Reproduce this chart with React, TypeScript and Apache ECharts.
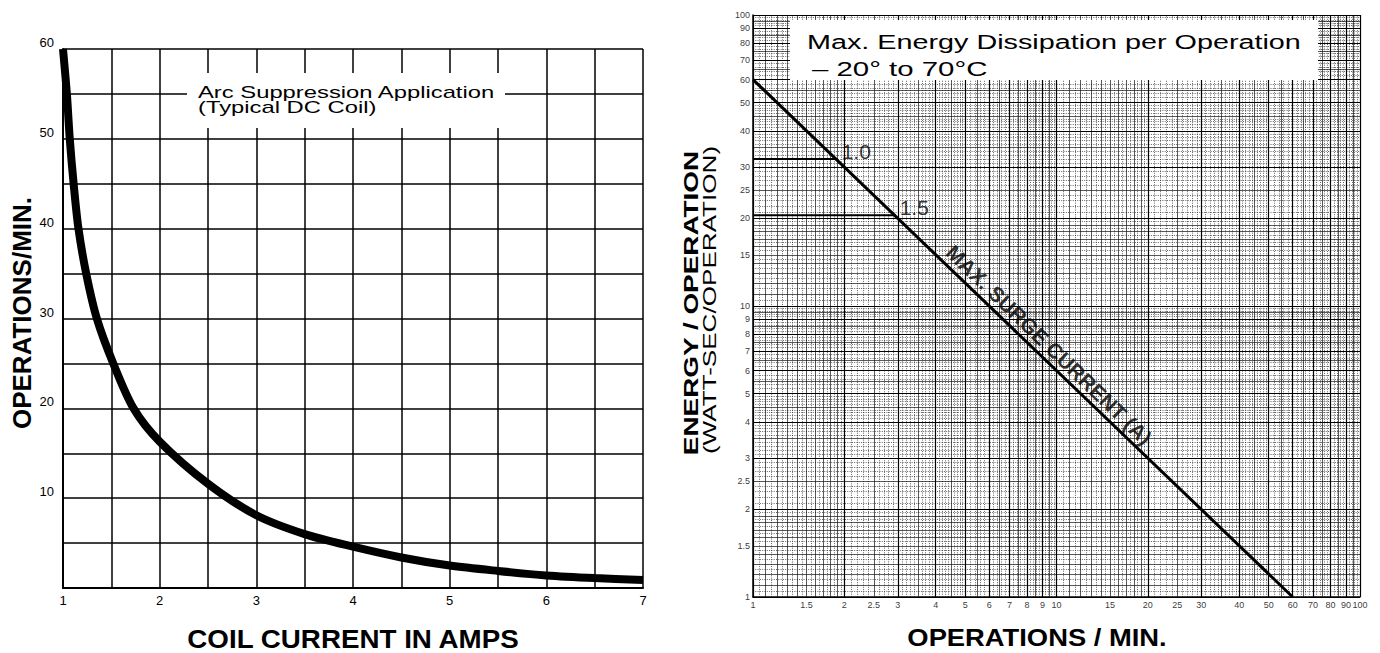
import React, { useEffect, useRef } from 'react';
import * as echarts from 'echarts';

// ---------- Left chart data ----------
const coilCurrentAmps = [1, 1.04, 1.07, 1.11, 1.16, 1.24, 1.35, 1.52, 1.73, 2, 2.5, 3, 3.5, 4, 4.5, 5, 5.5, 6, 6.5, 7];
const operationsPerMin = [60, 55, 50, 45, 40, 35, 30, 25, 20, 16.3, 11.6, 8.1, 6.0, 4.6, 3.4, 2.5, 1.9, 1.4, 1.1, 0.9];
const leftXTickLabels = [1, 2, 3, 4, 5, 6, 7];
const leftYTickLabels = [10, 20, 30, 40, 50, 60];

// ---------- Right chart data ----------
const surgeOps = [1, 60];
const surgeEnergy = [60, 1];
const ratingLabels = ['1.0', '1.5'];
const ratingEnergy = [32, 20.5];
const ratingOpsAtLine = [1.9, 2.95];
const logTickLabels = ['1', '1.5', '2', '2.5', '3', '4', '5', '6', '7', '8', '9', '10', '15', '20', '25', '30', '40', '50', '60', '70', '80', '90', '100'];
const surgeLabelText = 'MAX. SURGE CURRENT (A)';
const surgeLabelAt = [9.45, 7.35];

// log paper rulings (per decade, multiplied by 1 and 10)
const decades = [1, 10];
const decadeMajor = [1, 2, 3, 4, 5, 6, 7, 8, 9, 10];
const decadeMedium = [1.1, 1.2, 1.3, 1.4, 1.5, 1.6, 1.7, 1.8, 1.9, 2.5, 3.5, 4.5, 5.5, 6.5, 7.5, 8.5, 9.5];
const decadeMinorSteps = [
  [1, 2, 0.05],
  [2, 5, 0.1],
  [5, 10, 0.2],
];

const FONT = '"Liberation Sans", Arial, Helvetica, sans-serif';

const r3 = (v: number) => Math.round(v * 1000) / 1000;

function buildRulings() {
  const major = new Set<number>();
  const medium = new Set<number>();
  const minor = new Set<number>();
  decades.forEach((d) => {
    decadeMajor.forEach((v) => major.add(r3(v * d)));
  });
  decades.forEach((d) => {
    decadeMedium.forEach((v) => {
      const val = r3(v * d);
      if (!major.has(val)) medium.add(val);
    });
  });
  decades.forEach((d) => {
    decadeMinorSteps.forEach(([a, b, s]) => {
      const n = Math.round((b - a) / s);
      for (let i = 1; i < n; i++) {
        const val = r3((a + i * s) * d);
        if (!major.has(val) && !medium.has(val)) minor.add(val);
      }
    });
  });
  return { major: [...major], medium: [...medium], minor: [...minor] };
}

export default function App() {
  const ref = useRef<HTMLDivElement>(null);

  useEffect(() => {
    if (!ref.current) return;
    const chart = echarts.init(ref.current, undefined, { renderer: 'svg' });
    const rul = buildRulings();
    const majorStyle = { color: '#000', width: 1.2, type: 'solid' };
    const mediumStyle = { color: '#111', width: 0.7, type: 'solid' };
    const minorStyle = { color: '#222', width: 0.7, type: [1, 1.3] };
    const markData: any[] = [];
    const addLines = (vals: number[], style: any) => {
      vals.forEach((v) => {
        markData.push({ xAxis: v, lineStyle: style });
        markData.push({ yAxis: v, lineStyle: style });
      });
    };
    addLines(rul.minor, minorStyle);
    addLines(rul.medium, mediumStyle);
    addLines(rul.major, majorStyle);

    const curveData = coilCurrentAmps.map((x, i) => [x, operationsPerMin[i]]);
    const surgeData = surgeOps.map((x, i) => [x, surgeEnergy[i]]);

    const textEl = (text: string, x: number, y: number, size: number, opts: any = {}) => ({
      type: 'text',
      x,
      y,
      z: 60,
      rotation: opts.rotation || 0,
      scaleX: opts.scaleX || 1,
      style: {
        text,
        fontSize: size,
        fontFamily: FONT,
        fontWeight: opts.bold ? 'bold' : 'normal',
        fill: '#000',
        align: opts.align || 'center',
        verticalAlign: 'middle',
      },
    });

    const option: any = {
      animation: false,
      backgroundColor: '#fff',
      grid: [
        { left: 63, top: 49, width: 580, height: 539 },
        { left: 753, top: 15, width: 607, height: 582 },
      ],
      xAxis: [
        {
          gridIndex: 0,
          type: 'value',
          min: 1,
          max: 7,
          interval: 0.5,
          axisLine: { show: true, onZero: false, lineStyle: { color: '#000', width: 2 } },
          axisTick: { show: false },
          splitLine: { show: true, lineStyle: { color: '#000', width: 1.5 } },
          axisLabel: {
            color: '#000',
            fontSize: 13,
            fontFamily: FONT,
            margin: 6,
            formatter: (v: number) => (leftXTickLabels.includes(v) ? String(v) : ''),
          },
        },
        {
          gridIndex: 1,
          type: 'log',
          logBase: 10,
          min: 1,
          max: 100,
          axisLine: { show: true, onZero: false, lineStyle: { color: '#000', width: 1.5 } },
          axisTick: { show: false },
          axisLabel: { show: false },
          splitLine: { show: false },
        },
      ],
      yAxis: [
        {
          gridIndex: 0,
          type: 'value',
          min: 0,
          max: 60,
          interval: 5,
          axisLine: { show: true, onZero: false, lineStyle: { color: '#000', width: 2 } },
          axisTick: { show: false },
          splitLine: { show: true, lineStyle: { color: '#000', width: 1.5 } },
          axisLabel: {
            color: '#000',
            fontSize: 13,
            fontFamily: FONT,
            margin: 9,
            verticalAlign: 'bottom',
            formatter: (v: number) => (leftYTickLabels.includes(v) ? String(v) : ''),
          },
        },
        {
          gridIndex: 1,
          type: 'log',
          logBase: 10,
          min: 1,
          max: 100,
          axisLine: { show: true, onZero: false, lineStyle: { color: '#000', width: 1.5 } },
          axisTick: { show: false },
          axisLabel: { show: false },
          splitLine: { show: false },
        },
      ],
      series: [
        {
          type: 'line',
          xAxisIndex: 0,
          yAxisIndex: 0,
          data: curveData,
          smooth: 0.3,
          symbol: 'none',
          clip: true,
          z: 5,
          lineStyle: { color: '#000', width: 8 },
        },
        {
          type: 'line',
          xAxisIndex: 1,
          yAxisIndex: 1,
          data: [[1, 1]],
          symbol: 'none',
          lineStyle: { opacity: 0 },
          silent: true,
          z: 1,
          markLine: {
            silent: true,
            symbol: ['none', 'none'],
            label: { show: false },
            emphasis: { disabled: true },
            animation: false,
            data: markData,
          },
        },
        {
          type: 'line',
          xAxisIndex: 1,
          yAxisIndex: 1,
          data: surgeData,
          symbol: 'none',
          z: 5,
          lineStyle: { color: '#000', width: 3 },
        },
        ...ratingEnergy.map((e, i) => ({
          type: 'line',
          xAxisIndex: 1,
          yAxisIndex: 1,
          data: [
            [1, e],
            [ratingOpsAtLine[i], e],
          ],
          symbol: 'none',
          z: 5,
          lineStyle: { color: '#000', width: 2 },
        })),
        {
          type: 'scatter',
          xAxisIndex: 1,
          yAxisIndex: 1,
          data: ratingEnergy.map((e, i) => [ratingOpsAtLine[i], e]),
          symbolSize: 0.1,
          itemStyle: { color: 'transparent' },
          clip: false,
          z: 6,
          label: {
            show: true,
            position: 'right',
            distance: 4,
            offset: [0, -8],
            fontSize: 21,
            fontFamily: FONT,
            color: '#000',
            formatter: (p: any) => ratingLabels[p.dataIndex],
          },
        },
        {
          type: 'scatter',
          xAxisIndex: 1,
          yAxisIndex: 1,
          data: [surgeLabelAt],
          symbolSize: 0.1,
          itemStyle: { color: 'transparent' },
          clip: false,
          z: 6,
          label: {
            show: true,
            position: 'inside',
            rotate: -44,
            fontSize: 21,
            fontWeight: 'bold',
            fontFamily: FONT,
            color: '#000',
            formatter: surgeLabelText,
          },
        },
        {
          type: 'scatter',
          xAxisIndex: 1,
          yAxisIndex: 1,
          data: logTickLabels.map((t) => [1, Number(t)]),
          symbolSize: 0.1,
          itemStyle: { color: 'transparent' },
          clip: false,
          label: {
            show: true,
            position: 'left',
            distance: 3,
            fontSize: 9,
            fontFamily: FONT,
            color: '#000',
            formatter: (p: any) => logTickLabels[p.dataIndex],
          },
        },
        {
          type: 'scatter',
          xAxisIndex: 1,
          yAxisIndex: 1,
          data: logTickLabels.map((t) => [Number(t), 1]),
          symbolSize: 0.1,
          itemStyle: { color: 'transparent' },
          clip: false,
          label: {
            show: true,
            position: 'bottom',
            distance: 3,
            fontSize: 9,
            fontFamily: FONT,
            color: '#000',
            formatter: (p: any) => logTickLabels[p.dataIndex],
          },
        },
      ],
      graphic: [
        { type: 'rect', z: 50, shape: { x: 187, y: 73, width: 318, height: 55 }, style: { fill: '#fff' } },
        textEl('Arc Suppression Application', 198, 92, 17, { align: 'left', scaleX: 1.4 }),
        textEl('(Typical DC Coil)', 198, 107, 17, { align: 'left', scaleX: 1.4 }),
        { type: 'rect', z: 50, shape: { x: 790, y: 20, width: 528, height: 60 }, style: { fill: '#fff' } },
        textEl('Max. Energy Dissipation per Operation', 807, 41, 21, { align: 'left', scaleX: 1.37 }),
        textEl('– 20° to 70°C', 812, 69, 21, { align: 'left', scaleX: 1.4 }),
        textEl('OPERATIONS/MIN.', 22, 313, 26, { bold: true, rotation: Math.PI / 2 }),
        textEl('COIL CURRENT IN AMPS', 353, 639, 25, { bold: true, scaleX: 1.11 }),
        textEl('OPERATIONS / MIN.', 1037, 638, 24, { bold: true, scaleX: 1.14 }),
        textEl('ENERGY / OPERATION', 691, 303, 21, { bold: true, rotation: Math.PI / 2, scaleX: 1.33 }),
        textEl('(WATT-SEC/OPERATION)', 710, 300, 18, { rotation: Math.PI / 2, scaleX: 1.45 }),
      ],
    };

    chart.setOption(option);
    return () => chart.dispose();
  }, []);

  return (
    <div
      ref={ref}
      style={{ position: 'absolute', left: 0, top: 0, width: 1380, height: 653, background: '#fff' }}
    />
  );
}
